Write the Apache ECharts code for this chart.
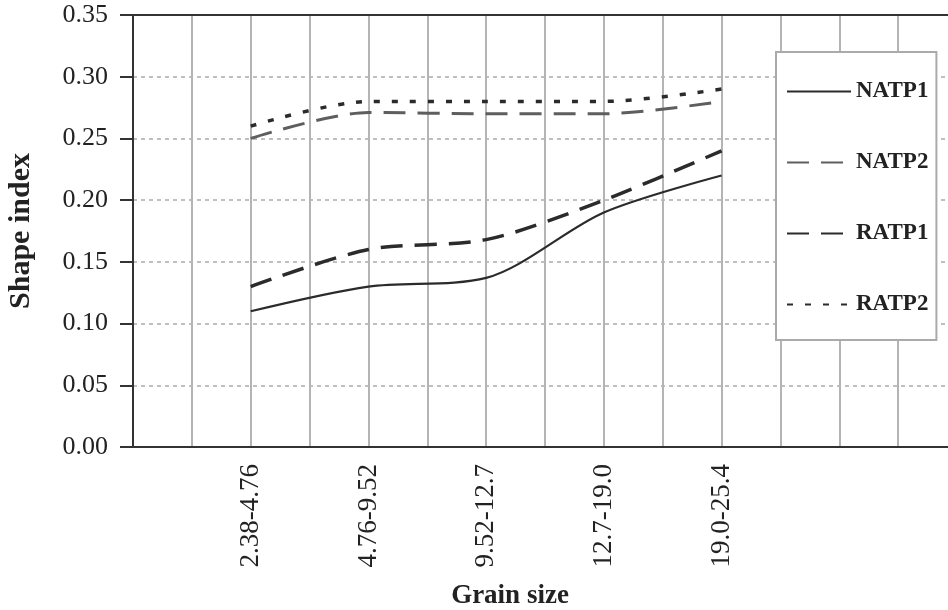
<!DOCTYPE html>
<html>
<head>
<meta charset="utf-8">
<script src="https://cdn.jsdelivr.net/npm/echarts@6/dist/echarts.min.js"></script>
<style>
  html, body { margin: 0; padding: 0; background: #fff; }
  #chart { width: 948px; height: 610px; }
</style>
</head>
<body>
<div id="chart"></div>
<script>
// Grain size classes (mm) and shape index per series
const categories = ['2.38-4.76', '4.76-9.52', '9.52-12.7', '12.7-19.0', '19.0-25.4'];
const natp1 = [0.110, 0.130, 0.137, 0.190, 0.220];
const natp2 = [0.250, 0.271, 0.270, 0.270, 0.280];
const ratp1 = [0.130, 0.160, 0.168, 0.200, 0.240];
const ratp2 = [0.260, 0.280, 0.280, 0.280, 0.290];
const seriesNames = ['NATP1', 'NATP2', 'RATP1', 'RATP2'];

const serif = '"Liberation Serif", "DejaVu Serif", serif';

// categories sit at x = 1..5 on a value axis with half-step grid lines
const toPoints = arr => arr.map((v, i) => [i + 1, v]);

const lineSeries = (name, values, color, width, type) => ({
  name: name,
  type: 'line',
  data: toPoints(values),
  smooth: 0.3,
  showSymbol: false,
  symbol: 'none',
  lineStyle: { color: color, width: width, type: type },
  itemStyle: { color: color }
});

const chart = echarts.init(document.getElementById('chart'), null, { renderer: 'canvas' });
chart.setOption({
  animation: false,
  backgroundColor: '#fff',
  grid: {
    left: 133, top: 15, bottom: 163, right: -9,
    outerBoundsMode: 'none',
    containLabel: false,
    show: false
  },
  xAxis: [{
    type: 'value',
    min: 0, max: 7, interval: 0.5,
    name: 'Grain size',
    nameLocation: 'middle',
    nameGap: 136,
    nameTextStyle: { fontFamily: serif, fontWeight: 'bold', fontSize: 27, color: '#222', padding: [0, 70, 0, 0] },
    axisLine: { show: true, lineStyle: { color: '#333', width: 2 } },
    axisTick: { show: false },
    axisLabel: {
      rotate: 90,
      margin: 17,
      fontFamily: serif, fontSize: 27, color: '#222',
      showMinLabel: true, showMaxLabel: true,
      formatter: v => (Number.isInteger(v) && v >= 1 && v <= categories.length) ? categories[v - 1] : ''
    },
    splitLine: { show: true, lineStyle: { color: '#b4b4b4', width: 2 } }
  }, {
    // plain frame line along the top of the plot
    type: 'value',
    position: 'top',
    min: 0, max: 7,
    axisLine: { show: true, lineStyle: { color: '#333', width: 2 } },
    axisTick: { show: false },
    axisLabel: { show: false },
    splitLine: { show: false }
  }],
  yAxis: {
    type: 'value',
    min: 0, max: 0.35, interval: 0.05,
    name: 'Shape index',
    nameLocation: 'middle',
    nameGap: 97,
    nameTextStyle: { fontFamily: serif, fontWeight: 'bold', fontSize: 30, color: '#222' },
    axisLine: { show: true, lineStyle: { color: '#333', width: 2 } },
    axisTick: { show: true, length: 13, inside: false, lineStyle: { color: '#333', width: 2 } },
    axisLabel: {
      margin: 25,
      fontFamily: serif, fontSize: 26, color: '#222',
      formatter: v => v.toFixed(2)
    },
    splitLine: { show: true, lineStyle: { color: '#aaa', width: 1.5, type: [4, 4] } }
  },
  legend: {
    orient: 'vertical',
    left: 776, top: 52,
    width: 158,
    backgroundColor: '#fff',
    borderColor: '#aaa',
    borderWidth: 2,
    borderRadius: 0,
    padding: [28, 8, 24, 10],
    itemWidth: 64,
    itemHeight: 20,
    itemGap: 48,
    itemStyle: { opacity: 0 },
    textStyle: { fontFamily: serif, fontWeight: 'bold', fontSize: 23, color: '#222', padding: [0, 0, 0, 0] },
    data: seriesNames
  },
  series: [
    lineSeries(seriesNames[0], natp1, '#2b2b2b', 2.2, 'solid'),
    lineSeries(seriesNames[1], natp2, '#5e5e5e', 3, [22, 12]),
    lineSeries(seriesNames[2], ratp1, '#2b2b2b', 3.5, [22, 12]),
    lineSeries(seriesNames[3], ratp2, '#2b2b2b', 3.5, [6, 12])
  ]
});
</script>
</body>
</html>
